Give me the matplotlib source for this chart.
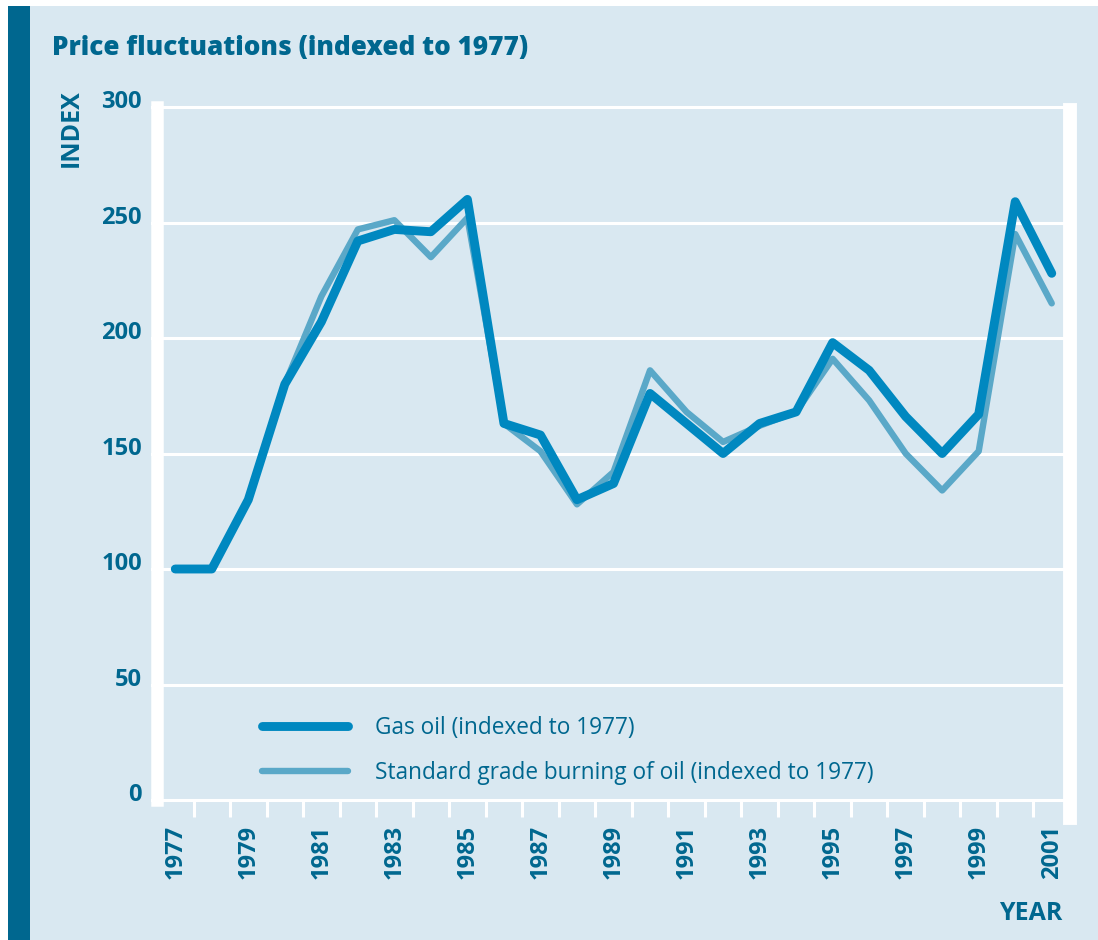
import matplotlib
matplotlib.use('Agg')
from matplotlib import pyplot as plt
from matplotlib.patches import Rectangle
from matplotlib.transforms import ScaledTranslation

years = list(range(1977, 2002))
gas_oil = [100, 100, 130, 180, 207, 242, 247, 246, 260, 163, 158, 130, 137,
           176, 163, 150, 163, 168, 198, 186, 166, 150, 167, 259, 228]
burning_oil = [100, 100, 130, 180, 218, 247, 251, 235, 252, 163, 151, 128, 142,
               186, 168, 155, 162, 168, 191, 173, 150, 134, 151, 245, 215]
y_ticks = [0, 50, 100, 150, 200, 250, 300]
x_labels = list(range(1977, 2002, 2))

bg = '#d9e8f1'
dark = '#0088c0'
light = '#5aa8c8'
txt = '#00678f'

plt.rcParams['font.family'] = ['Open Sans', 'DejaVu Sans']

fig = plt.figure(figsize=(10.98, 9.4), dpi=100, facecolor='white')
W, H = 1098., 940.
# background panel and left stripe
fig.patches.append(Rectangle((8 / W, 0), 1, 1 - 6 / H, transform=fig.transFigure,
                             facecolor=bg, edgecolor='none', zorder=-3))
fig.patches.append(Rectangle((8 / W, 0), 22 / W, 1 - 6 / H, transform=fig.transFigure,
                             facecolor='#00678f', edgecolor='none', zorder=-2))

ax = fig.add_axes([157 / W, 1 - 800 / H, (1070 - 157) / W, (800 - 107) / H])
ax.set_facecolor(bg)
ax.set_xlim(1976.5, 2001.5)
ax.set_ylim(0, 300)

for s in ['top', 'bottom', 'right']:
    ax.spines[s].set_visible(False)
ax.spines['left'].set_color('white')
ax.spines['left'].set_linewidth(9)
ax.spines['left'].set_bounds(0, 300)

for v in y_ticks:
    ax.axhline(v, color='white', lw=2.2, zorder=1, xmin=-0.005, clip_on=False)
ax.axvline(2001.5, ymin=-0.026, ymax=0.995, color='white', lw=10, clip_on=False, zorder=1)

ax.plot(years, burning_oil, color=light, lw=4.6, solid_capstyle='round',
        solid_joinstyle='round', zorder=3, label='Standard grade burning of oil (indexed to 1977)')
ax.plot(years, gas_oil, color=dark, lw=6.4, solid_capstyle='round',
        solid_joinstyle='round', zorder=4, label='Gas oil (indexed to 1977)')

# ticks
ax.set_xticks(x_labels)
ax.set_xticklabels([str(x) for x in x_labels], rotation=90, fontsize=17,
                   fontweight='bold', color=txt)
ax.set_xticks([y + 0.5 for y in years[:-1]], minor=True)
ax.tick_params(axis='x', which='major', length=0, pad=18)
ax.tick_params(axis='x', which='minor', length=12, width=2.2, color='white', direction='out')
ax.set_yticks(y_ticks)
ax.set_yticklabels([str(v) for v in y_ticks], fontsize=17, fontweight='bold', color=txt)
ax.tick_params(axis='y', length=0, pad=11)
for lab in ax.get_yticklabels():
    lab.set_va('baseline')
    lab.set_transform(lab.get_transform() + ScaledTranslation(0, -1 / 72, fig.dpi_scale_trans))

h, l = ax.get_legend_handles_labels()
leg = ax.legend(h[::-1], l[::-1], loc='upper left', bbox_to_anchor=(0.115, 0.121),
                frameon=False, fontsize=16.3, handlelength=3.8, handletextpad=1.2,
                labelspacing=0.92, borderpad=0, borderaxespad=0)
for t in leg.get_texts():
    t.set_color(txt)

fig.text(52 / W, 1 - 48 / H, 'Price fluctuations (indexed to 1977)', fontsize=18.8,
         fontweight='heavy', color=txt, va='center', ha='left')
fig.text(71 / W, 1 - 128 / H, 'INDEX', fontsize=18, fontweight='bold', color=txt,
         rotation=90, va='center', ha='center')
fig.text(1062 / W, 1 - 913 / H, 'YEAR', fontsize=18, fontweight='bold', color=txt,
         va='center', ha='right')

fig.savefig('out.png', dpi=100, facecolor=fig.get_facecolor())
